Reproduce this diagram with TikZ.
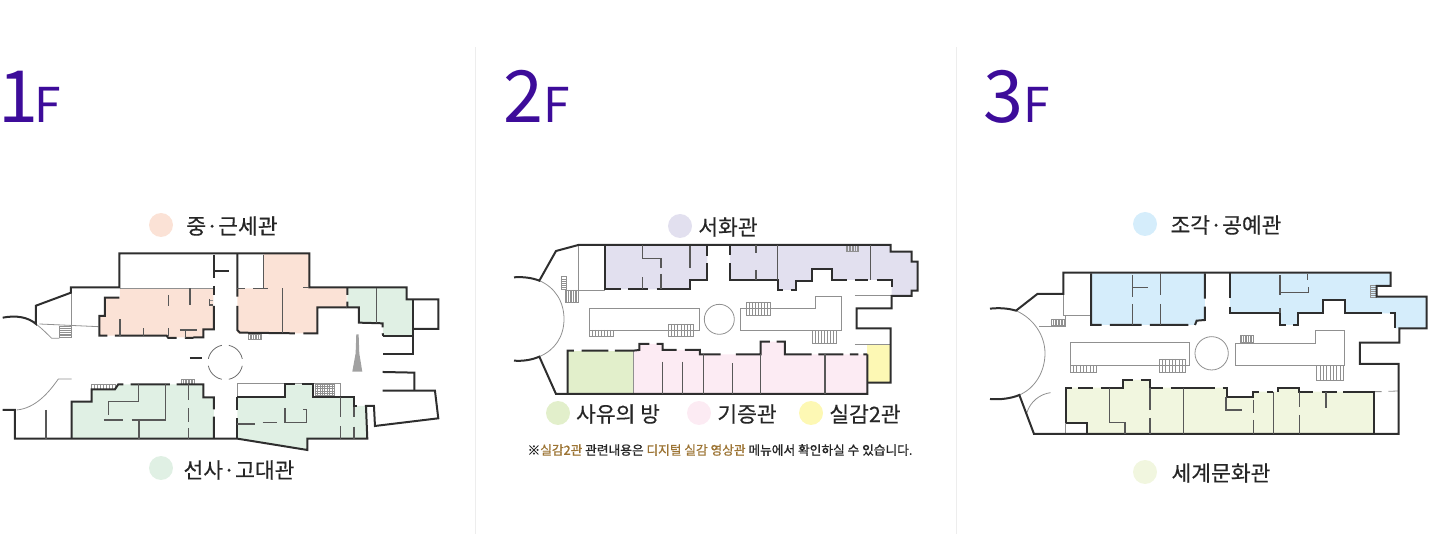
\documentclass[tikz,border=0pt]{standalone}
\usepackage{fontspec}
\setmainfont{Noto Sans CJK KR}
\newfontfamily\labelfont[FakeBold=0.35]{Noto Sans CJK KR}
\newfontfamily\notefont[FakeBold=1]{Noto Sans CJK KR}
\definecolor{floorcol}{HTML}{3D0C9A}
\definecolor{wallcol}{HTML}{2E2E2E}
\definecolor{linecol}{HTML}{909090}
\definecolor{notecol}{HTML}{9C7434}
\definecolor{medieval}{HTML}{FBE2D6}
\definecolor{ancient}{HTML}{E0F0E4}
\definecolor{calli}{HTML}{E2E0EF}
\definecolor{thought}{HTML}{E2EFCB}
\definecolor{donation}{HTML}{FCEBF3}
\definecolor{immersive}{HTML}{FDF8B4}
\definecolor{sculpture}{HTML}{D5EDFB}
\definecolor{world}{HTML}{F1F6DF}
\tikzset{
	wall/.style={draw=wallcol, line width=2pt},
	inwall/.style={draw=wallcol!80, line width=1.1pt},
	thinwall/.style={draw=linecol, line width=.8pt},
	stairline/.style={draw=linecol, line width=.5pt},
	dot/.style={circle, minimum size=24pt, inner sep=0pt},
	roomlabel/.style={text=black!85, font=\labelfont\fontsize{21.5}{25}\selectfont, inner sep=0pt},
	floortitle/.style={text=floorcol, font=\fontsize{72}{80}\selectfont, inner sep=0pt, anchor=base west},
}
\newcommand{\subF}{\fontsize{48}{56}\selectfont F}
\newcommand{\stairsv}[4]{
	\draw[stairline] (#1,#2) rectangle (#3,#4);
	\foreach \k in {1,...,7} \draw[stairline] ({#1+(#3-#1)*\k/8},#2) -- ({#1+(#3-#1)*\k/8},#4);
}
\newcommand{\stairsh}[4]{
	\draw[stairline] (#1,#2) rectangle (#3,#4);
	\foreach \k in {1,...,5} \draw[stairline] (#1,{#2+(#4-#2)*\k/6}) -- (#3,{#2+(#4-#2)*\k/6});
}
\begin{document}
\begin{tikzpicture}[x=1pt, y=-1pt, line join=miter]
	\useasboundingbox (0,0) rectangle (1438,534);
	
	% dividers
	\draw[black!7, line width=.8pt] (475.5,47) -- (475.5,534);
	\draw[black!7, line width=.8pt] (956.5,47) -- (956.5,534);
	
	% floor titles
	\node[floortitle] (titleOne) at (0,123) {\kern-2pt 1\kern-4pt\subF};
	\node[floortitle] (titleTwo) at (503,123) {2\subF};
	\node[floortitle] (titleThree) at (983,123) {3\subF};
	
	% legend
	\node[dot, fill=medieval] (dotMed) at (161,225) {};
	\node[roomlabel] (labMed) at (232,226) {중·근세관};
	\node[dot, fill=ancient] (dotAnc) at (161,468) {};
	\node[roomlabel] (labAnc) at (239,470) {선사·고대관};
	\node[dot, fill=calli] (dotCal) at (680,226) {};
	\node[roomlabel] (labCal) at (728,227) {서화관};
	\node[dot, fill=thought] (dotTho) at (558,413) {};
	\node[roomlabel] (labTho) at (618,414) {사유의 방};
	\node[dot, fill=donation] (dotDon) at (699,413) {};
	\node[roomlabel] (labDon) at (747,414) {기증관};
	\node[dot, fill=immersive] (dotImm) at (811,413) {};
	\node[roomlabel] (labImm) at (865,414) {실감2관};
	\node[dot, fill=sculpture] (dotScu) at (1145,224) {};
	\node[roomlabel] (labScu) at (1226,225) {조각·공예관};
	\node[dot, fill=world] (dotWor) at (1145,472) {};
	\node[roomlabel] (labWor) at (1221,473) {세계문화관};
	\node[inner sep=0pt, text=black!85, font=\notefont\fontsize{12.7}{15}\selectfont] (note) at (720,450) {※{\color{notecol}실감2관} 관련내용은 {\color{notecol}디지털 실감 영상관} 메뉴에서 확인하실 수 있습니다.};
	
	% 1F
	\begin{scope}[shift={(0,200)}, x=0.3333pt, y=-0.3333pt]
		\fill[medieval] (360,265) -- (640,265) -- (640,388) -- (610,388) -- (610,412) -- (505,412) -- (500,407) -- (298,407) -- (298,348) -- (315,348) -- (315,293) -- (360,293) -- cycle;
		\fill[medieval] (790,162) -- (928,162) -- (928,263) -- (1040,263) -- (1040,322) -- (952,322) -- (952,400) -- (712,400) -- (712,265) -- (790,265) -- cycle;
		\fill[ancient] (1042,263) -- (1220,263) -- (1220,298) -- (1240,298) -- (1240,408) -- (1150,408) -- (1148,370) -- (1077,368) -- (1077,322) -- (1042,322) -- cycle;
		\fill[ancient] (215,715) -- (215,605) -- (275,605) -- (275,568) -- (345,568) -- (355,553) -- (610,553) -- (610,592) -- (642,592) -- (642,715) -- cycle;
		\fill[ancient] (712,592) -- (855,592) -- (855,553) -- (940,553) -- (940,592) -- (1062,592) -- (1062,618) -- (1102,618) -- (1102,716) -- (922,716) -- (922,750) -- (712,716) -- cycle;
		
		% thin lines
		\draw[thinwall] (360,265) -- (640,265);
		\draw[thinwall] (118,372) -- (295,380);
		\draw[thinwall] (213,278) -- (213,415);
		\draw[thinwall] (108,372) .. controls (125,385) and (140,400) .. (155,415) -- (178,415);
		\draw[thinwall] (50,630) .. controls (105,625) and (145,580) .. (175,537) -- (215,537);
		\draw[thinwall] (712,550) -- (1022,550) -- (1022,592) (712,550) -- (712,592);
		\draw[thinwall] (640,300) -- (628,300);
		\fill[linecol!85] (1069,403) -- (1076,403) -- (1078,460) -- (1087,515) -- (1057,515) -- (1067,460) -- cycle;
		\stairsh{178}{380}{215}{412}
		\stairsv{275}{553}{345}{568}
		\stairsv{545}{538}{583}{553}
		\stairsv{745}{403}{785}{417}
		\stairsh{945}{553}{1003}{592}
		\stairsv{945}{553}{1003}{592}
		
		% outer walls
		\draw[wall] (8,353) .. controls (50,345) and (85,352) .. (108,372) -- (108,317) -- (213,278) -- (213,262) -- (358,262) -- (358,160) -- (928,160) -- (928,262) -- (1220,262) -- (1220,298) -- (1315,298) -- (1315,387) -- (1240,387);
		\draw[wall] (1240,298) -- (1240,408) -- (1150,408) (1240,408) -- (1240,462) -- (1148,462);
		\draw[wall] (1148,516) -- (1243,518) -- (1243,570);
		\draw[wall] (1148,572) -- (1305,572) -- (1315,655) -- (1125,678) -- (1122,618) -- (1098,618) -- (1102,716) -- (922,716) -- (922,750) -- (712,716) -- (45,716) -- (45,630) -- (8,630);
		
		% room walls
		\draw[wall] (358,293) -- (315,293) -- (315,348) -- (298,348) -- (298,407) -- (322,407) (345,407) -- (500,407) -- (505,414) -- (530,414) (555,414) -- (580,414) (580,412) -- (610,412) -- (610,388) -- (642,388) -- (642,318);
		\draw[wall] (642,165) -- (642,235) (642,258) -- (642,285);
		\draw[wall] (645,212) -- (688,212);
		\draw[wall] (712,162) -- (712,290) (712,318) -- (712,390) -- (720,398) -- (885,400) (910,400) -- (952,400) -- (952,322) -- (1040,322);
		\draw[wall] (1042,262) -- (1042,285) (1042,305) -- (1042,322) -- (1077,322) -- (1077,368) -- (1148,370) -- (1148,382) (1148,400) -- (1150,408);
		\draw[wall] (570,473) -- (605,473);
		\draw[wall] (215,716) -- (215,605) -- (275,605) -- (275,568) -- (345,568) -- (355,553) -- (370,553) (392,553) -- (510,553) (530,553) -- (610,553) -- (610,592) -- (642,592) -- (642,628) (642,650) -- (642,716);
		\draw[wall] (712,592) -- (712,630) (712,655) -- (712,716) (712,592) -- (855,592) -- (855,553) -- (885,553) (905,553) -- (940,553) -- (940,592) -- (1062,592) -- (1062,618) -- (1070,618);
		\draw[draw=wallcol!70, dash pattern=on 20.2pt off 7pt, dash phase=23.7pt, line width=.8pt] (676,487) circle [radius=52];
		
		% inner walls
		\draw[inwall] (138,630) -- (138,716);
		\draw[inwall] (360,358) -- (360,407) (430,385) -- (430,407) (505,285) -- (505,318) (570,265) -- (570,315) (505,385) -- (505,407) (556,390) -- (556,414) (540,390) -- (590,390) (628,297) -- (628,315) -- (640,315);
		\draw[inwall] (790,165) -- (790,265) (712,265) -- (735,265) (760,265) -- (805,265) (848,265) -- (848,400) (910,263) -- (928,263) (1130,265) -- (1130,368);
		\draw[inwall] (415,553) -- (415,605) -- (325,605) -- (325,645) (312,660) -- (370,660) (395,660) -- (497,660) -- (497,553) (417,660) -- (417,716) (565,553) -- (565,600) (565,625) -- (565,665) (565,685) -- (565,716);
		\draw[inwall] (855,625) -- (855,668) (788,668) -- (830,668) (712,672) -- (765,672) (855,668) -- (920,668) -- (920,628) -- (910,628) (1022,592) -- (1022,650) (1022,678) -- (1022,716) (1062,620) -- (1062,650) (1062,680) -- (1062,716);
	\end{scope}
	
	% 2F
	\begin{scope}[shift={(500,200)}, x=0.3333pt, y=-0.3333pt]
		\fill[calli] (315,135) -- (622,135) -- (622,240) -- (570,240) -- (570,268) -- (315,268) -- cycle;
		\fill[calli] (690,135) -- (1172,135) -- (1172,155) -- (1235,155) -- (1235,185) -- (1253,185) -- (1253,272) -- (1235,272) -- (1235,288) -- (1175,288) -- (1175,240) -- (995,240) -- (995,207) -- (935,207) -- (935,242) -- (888,242) -- (888,270) -- (833,270) -- (833,240) -- (690,240) -- cycle;
		\fill[thought] (203,452) -- (400,452) -- (400,582) -- (203,582) -- cycle;
		\fill[donation] (400,452) -- (418,452) -- (418,432) -- (488,432) -- (488,450) -- (600,450) -- (600,463) -- (782,463) -- (782,425) -- (855,425) -- (855,463) -- (1102,463) -- (1102,582) -- (400,582) -- cycle;
		\fill[immersive] (1102,432) -- (1172,432) -- (1172,548) -- (1102,548) -- cycle;
		
		% thin lines
		\draw[thinwall] (118,242) .. controls (165,262) and (192,305) .. (192,357) .. controls (192,410) and (165,450) .. (118,470);
		\draw[thinwall] (235,135) -- (235,270) -- (315,270);
		\draw[thinwall] (267,325) -- (598,325) -- (598,390) -- (267,390) -- cycle;
		\draw[thinwall] (722,325) -- (945,325) -- (945,290) -- (1023,290) -- (1023,390) -- (722,390) -- cycle;
		\draw[thinwall] (658,358) circle [radius=45];
		\draw[thinwall] (1065,285) -- (1172,285) (1065,432) -- (1172,432);
		\draw[thinwall] (400,452) -- (400,582);
		\stairsh{183}{230}{200}{268}
		\stairsv{195}{270}{235}{308}
		\stairsv{267}{390}{340}{410}
		\stairsv{505}{372}{580}{410}
		\stairsv{738}{308}{812}{347}
		\stairsv{937}{392}{1010}{430}
		\stairsv{1038}{135}{1075}{155}
		
		% outer walls
		\draw[wall] (42,232) .. controls (68,230) and (95,233) .. (118,242) -- (168,153) -- (235,135) -- (1172,135) -- (1172,155) -- (1235,155) -- (1235,185) -- (1253,185) -- (1253,272) -- (1235,272) -- (1235,288) -- (1175,288) -- (1175,325) -- (1070,325) -- (1070,385) -- (1172,385) -- (1172,548) -- (1102,548);
		\draw[wall] (1102,463) -- (1102,582) -- (168,582) -- (118,470) .. controls (95,480) and (68,484) .. (42,482);
		
		% room walls
		\draw[wall] (315,135) -- (315,268) -- (362,268) (385,268) -- (445,268) (470,268) -- (570,268) -- (570,240) -- (622,240) -- (622,190) (622,168) -- (622,135);
		\draw[wall] (690,135) -- (690,165) (690,190) -- (690,240) -- (833,240) -- (833,270) -- (850,270) (872,270) -- (888,270) -- (888,242) -- (935,242) -- (935,207) -- (995,207) -- (995,240) -- (1040,240) (1065,240) -- (1105,240) (1130,240) -- (1175,240) -- (1175,262);
		\draw[wall] (203,582) -- (203,452) -- (222,452) (245,452) -- (325,452) (345,452) -- (400,452) -- (418,450) -- (418,432) -- (448,432) (470,432) -- (488,432) -- (488,450) -- (530,450) (555,450) -- (600,450) -- (600,463) -- (662,463) (708,463) -- (782,463) -- (782,425) -- (810,425) (830,425) -- (855,425) -- (855,463) -- (935,463) (955,463) -- (1030,463) (1050,463) -- (1075,463) (1090,463) -- (1102,463);
		
		% inner walls
		\draw[inwall] (428,135) -- (428,175) -- (483,175) -- (483,205) (570,138) -- (570,205) (428,232) -- (428,268) (483,222) -- (483,268);
		\draw[inwall] (768,135) -- (768,160) (768,210) -- (768,240) (833,135) -- (833,240) (1112,135) -- (1112,240);
		\draw[inwall] (487,485) -- (487,582) (547,485) -- (547,582) (610,463) -- (610,582) (698,490) -- (698,582) (782,463) -- (782,582) (975,463) -- (975,582);
	\end{scope}
	
	% 3F
	\begin{scope}[shift={(980,200)}, x=0.3333pt, y=-0.3333pt]
		\fill[sculpture] (333,220) -- (675,220) -- (675,360) -- (650,360) -- (650,375) -- (333,375) -- cycle;
		\fill[sculpture] (750,220) -- (1232,220) -- (1232,258) -- (1190,258) -- (1190,290) -- (1340,290) -- (1340,385) -- (1245,385) -- (1245,340) -- (1095,340) -- (1095,300) -- (1028,300) -- (1028,340) -- (955,340) -- (955,375) -- (900,375) -- (900,340) -- (750,340) -- cycle;
		\fill[world] (258,563) -- (430,563) -- (430,540) -- (510,540) -- (510,563) -- (738,563) -- (738,590) -- (820,590) -- (820,575) -- (895,575) -- (895,563) -- (958,563) -- (958,575) -- (1182,575) -- (1182,702) -- (320,702) -- (320,668) -- (258,668) -- cycle;
		
		% thin lines
		\draw[thinwall] (108,332) .. controls (160,355) and (195,405) .. (195,460) .. controls (195,515) and (165,565) .. (118,585);
		\draw[thinwall] (250,218) -- (250,345) -- (333,345) (178,378) -- (255,378) -- (255,345);
		\draw[thinwall] (270,428) -- (628,428) -- (628,495) -- (270,495) -- cycle;
		\draw[thinwall] (765,430) -- (1005,430) -- (1005,390) -- (1092,390) -- (1092,497) -- (765,497) -- cycle;
		\draw[thinwall] (695,460) circle [radius=50];
		\draw[thinwall] (255,670) -- (255,702);
		\draw[thinwall] (140,640) .. controls (150,605) and (180,582) .. (212,578);
		\draw[thinwall] (1182,575) -- (1205,575) (1225,574) -- (1256,573);
		\stairsv{215}{357}{252}{377}
		\stairsv{270}{495}{350}{518}
		\stairsv{537}{477}{617}{518}
		\stairsv{780}{407}{820}{428}
		\stairsv{1010}{497}{1090}{540}
		\stairsh{1172}{255}{1190}{292}
		
		% outer walls
		\draw[wall] (30,326) .. controls (58,323) and (85,325) .. (108,332) -- (172,282) -- (250,282) -- (250,218) -- (1232,218) -- (1232,258) -- (1190,258) -- (1190,290) -- (1340,290) -- (1340,385) -- (1258,385) -- (1258,428) -- (1140,428) -- (1140,492) -- (1256,492) -- (1256,702) -- (162,702) -- (118,585) .. controls (95,595) and (60,600) .. (30,597);
		
		% room walls
		\draw[wall] (333,220) -- (333,375) -- (365,375) (390,375) -- (485,375) (510,375) -- (625,375) (645,375) -- (650,362) -- (675,360) -- (675,320) (675,296) -- (675,220);
		\draw[wall] (750,220) -- (750,295) (750,320) -- (750,340) -- (900,340) -- (900,375) -- (918,375) (940,375) -- (955,375) -- (955,340) -- (1028,340) -- (1028,300) -- (1095,300) -- (1095,340) -- (1205,340) (1230,340) -- (1245,340) -- (1245,385);
		\draw[wall] (258,668) -- (258,563) -- (275,563) (295,563) -- (340,563) (362,563) -- (430,563) -- (430,540) -- (460,540) (482,540) -- (510,540) -- (510,563) -- (550,563) (572,563) -- (705,563) (728,563) -- (740,563) -- (740,590) -- (820,590) -- (820,575) -- (838,575) (862,575) -- (880,575) (895,575) -- (895,563) -- (958,563) -- (958,575) -- (1000,575) (1025,575) -- (1070,575) (1090,575) -- (1182,575) -- (1182,702);
		\draw[wall] (258,668) -- (320,668) -- (320,702);
		
		% inner walls
		\draw[inwall] (457,225) -- (457,290) (457,263) -- (505,263) (457,312) -- (457,375) (541,220) -- (541,285) (541,312) -- (541,375);
		\draw[inwall] (900,225) -- (900,285) (900,278) -- (985,278) -- (985,262) (983,222) -- (983,240) (900,325) -- (900,340);
		\draw[inwall] (388,563) -- (388,668) -- (435,668) -- (435,702) (510,563) -- (510,630) (510,655) -- (510,702) (610,563) -- (610,702) (738,590) -- (738,630) -- (785,630) (820,600) -- (820,640) (820,660) -- (820,702) (880,575) -- (880,702) (958,575) -- (958,620) (958,645) -- (958,702) (1038,575) -- (1038,625);
	\end{scope}
	
\end{tikzpicture}
\end{document}
